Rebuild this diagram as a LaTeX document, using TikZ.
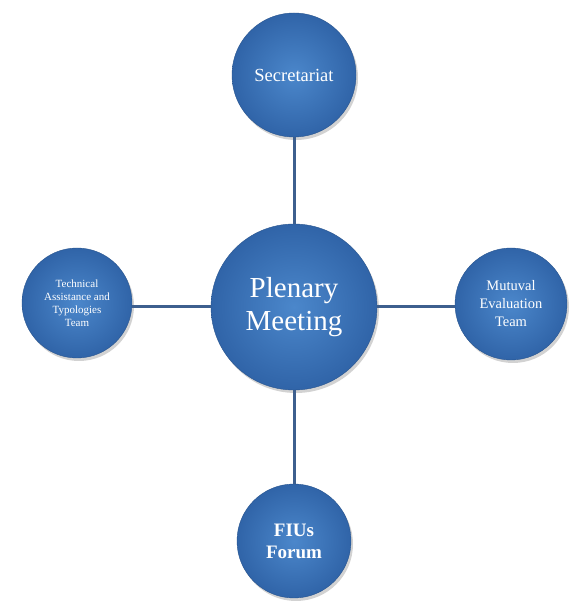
\documentclass[tikz,border=0pt]{standalone}
\usepackage{fontspec}
\setmainfont{Liberation Serif}
\usetikzlibrary{shadows}
\definecolor{linkc}{HTML}{3D5F8E}
\definecolor{ballin}{HTML}{4B87CB}
\definecolor{ballout}{HTML}{3064A8}
\tikzset{
  ball/.style={circle, inner sep=0pt, align=center, text=white,
    shading=radial, inner color=ballin, outer color=ballout,
    draw=ballout!85!black, line width=0.4pt,
    drop shadow={shadow xshift=2pt, shadow yshift=-3pt, opacity=0.35, fill=gray}},
  link/.style={draw=linkc, line width=3pt}
}
\begin{document}
\begin{tikzpicture}[x=1pt,y=1pt]
\useasboundingbox (0,0) rectangle (576,601);
\fill[white] (0,0) rectangle (576,601);
\node[ball, minimum size=124pt, font=\fontsize{18.5}{20}\selectfont] (sec) at (294,526) {Secretariat};
\node[ball, minimum size=166pt, font=\fontsize{29}{33}\selectfont] (ple) at (294,294) {Plenary\\Meeting};
\node[ball, minimum size=110pt, font=\fontsize{11}{13}\selectfont] (tec) at (77,298) {Technical\\Assistance and\\Typologies\\Team};
\node[ball, minimum size=112pt, font=\fontsize{14.5}{18}\selectfont] (mut) at (511,297) {Mutuval\\Evaluation\\Team};
\node[ball, minimum size=114pt, font=\bfseries\fontsize{19}{22}\selectfont] (fiu) at (294,60) {FIUs\\Forum};
\draw[link] (ple.north) -- (sec.south);
\draw[link] (ple.south) -- (fiu.north);
\draw[link] (tec.east |- ple.center) -- (ple.west);
\draw[link] (ple.east) -- (mut.west |- ple.center);
\end{tikzpicture}
\end{document}
